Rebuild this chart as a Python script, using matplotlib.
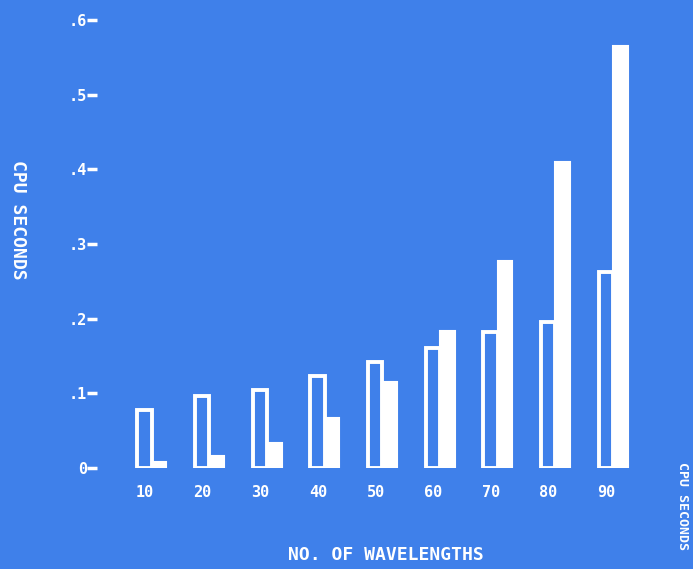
import matplotlib
matplotlib.use("Agg")
import matplotlib.pyplot as plt
import numpy as np

# data
wavelengths = ["10", "20", "30", "40", "50", "60", "70", "80", "90"]
hollow_vals = [0.078, 0.096, 0.104, 0.123, 0.142, 0.161, 0.182, 0.195, 0.262]
filled_vals = [0.008, 0.016, 0.033, 0.067, 0.115, 0.183, 0.278, 0.410, 0.566]
ytick_vals = [0, 0.1, 0.2, 0.3, 0.4, 0.5, 0.6]
ytick_labels = ["0", ".1", ".2", ".3", ".4", ".5", ".6"]

bg = "#3f80ea"
fg = "white"
font = dict(family="DejaVu Sans Mono", weight="bold", color=fg)
tickfont = dict(family="DejaVu Sans Mono", weight="bold", size=11)

fig = plt.figure(figsize=(6.93, 5.69), dpi=100)
fig.patch.set_facecolor(bg)
ax = fig.add_axes([0.14, 0.1775, 0.798, 0.787])
ax.set_facecolor(bg)

x = np.arange(len(wavelengths))
w = 0.25
ax.bar(x - w / 2, hollow_vals, w, facecolor="none", edgecolor=fg, linewidth=2.8)
ax.bar(x + w / 2, filled_vals, w, facecolor=fg, edgecolor=fg, linewidth=1.5)

ax.set_xlim(-0.95, 8.64)
ax.set_ylim(0, 0.6)

for s in ax.spines.values():
    s.set_visible(False)

ax.set_yticks(ytick_vals)
ax.set_yticklabels(ytick_labels, fontdict=tickfont)
ax.tick_params(axis="y", colors=fg, length=7, width=2.5, pad=0)
ax.set_xticks(x - 0.12)
ax.set_xticklabels(wavelengths, fontdict=tickfont)
ax.tick_params(axis="x", colors=fg, length=0, pad=12)

fig.text(0.026, 1 - 220 / 569, "CPU SECONDS", rotation=270, ha="center", va="center", size=13, **font)
fig.text(386 / 693, 1 - 555 / 569, "NO. OF WAVELENGTHS", ha="center", va="center", size=13, **font)
# second panel's label, only its start shows at the right edge
fig.text(0.985, 1 - 462 / 569, "CPU SECONDS", rotation=270, ha="center", va="top", size=9.5, **font)

fig.savefig("out.png", dpi=100, facecolor=bg)
